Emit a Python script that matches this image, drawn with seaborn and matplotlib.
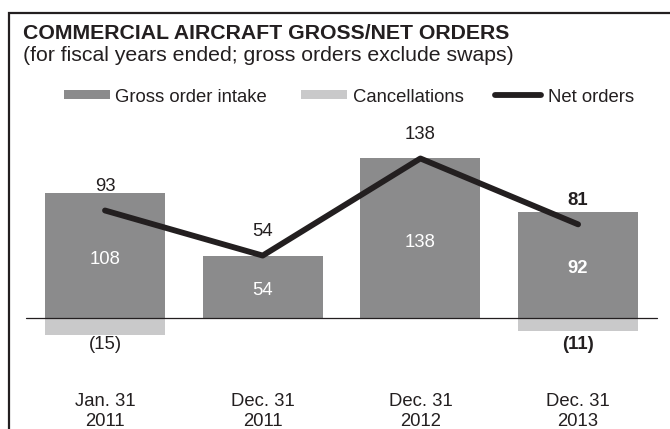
import matplotlib
matplotlib.use("Agg")
import matplotlib.pyplot as plt
from matplotlib.lines import Line2D
from matplotlib.patches import Rectangle
import numpy as np
import pandas as pd
import seaborn as sns

# Fiscal-year order figures
periods = ["Jan. 31\n2011", "Dec. 31\n2011", "Dec. 31\n2012", "Dec. 31\n2013"]
gross_orders = [108, 54, 138, 92]
cancellations = [-15, 0, 0, -11]
net_orders = [93, 54, 138, 81]
highlight = [False, False, False, True]   # latest year printed in bold

legend_labels = ["Gross order intake", "Cancellations", "Net orders"]
title = "COMMERCIAL AIRCRAFT GROSS/NET ORDERS"
subtitle = "(for fiscal years ended; gross orders exclude swaps)"

GROSS_COLOR = "#8b8b8c"
CANCEL_COLOR = "#c9c9ca"
INK = "#231f20"

W, H = 670, 429
sns.set_theme(style="white")
plt.rcParams["font.family"] = ["Liberation Sans", "DejaVu Sans"]

fig = plt.figure(figsize=(W / 100, H / 100), dpi=100)
fig.patch.set_facecolor("white")


def fx(px):
    return px / W


def fy(py):
    return 1 - py / H


# Plot area in pixel terms (from the top of the figure)
AX_LEFT, AX_RIGHT = 22, 670
AX_TOP, AX_BOTTOM = 120, 380
BASE_Y = 318          # pixel row of the zero line
PX_PER_UNIT = 1.156
FIRST_X, STEP_X = 105, 157.7
BAR_PX = 120

ax = fig.add_axes([fx(AX_LEFT), fy(AX_BOTTOM), (AX_RIGHT - AX_LEFT) / W,
                   (AX_BOTTOM - AX_TOP) / H])

df = pd.DataFrame({
    "period": periods,
    "pos": np.arange(len(periods)),
    "gross": gross_orders,
    "cancel": cancellations,
    "net": net_orders,
})

bar_w = BAR_PX / STEP_X
sns.barplot(data=df, x="period", y="gross", color=GROSS_COLOR, saturation=1,
            width=bar_w, linewidth=0, ax=ax, zorder=2)
sns.barplot(data=df, x="period", y="cancel", color=CANCEL_COLOR, saturation=1,
            width=bar_w, linewidth=0, ax=ax, zorder=2)
sns.lineplot(data=df, x="pos", y="net", color=INK, linewidth=4.2, sort=False,
             solid_capstyle="round", ax=ax, zorder=4)

ax.set_xlim(-(FIRST_X - AX_LEFT) / STEP_X, (AX_RIGHT - FIRST_X) / STEP_X)
ax.set_ylim(-(AX_BOTTOM - BASE_Y) / PX_PER_UNIT, (BASE_Y - AX_TOP) / PX_PER_UNIT)

# zero line
span = AX_RIGHT - AX_LEFT
ax.axhline(0, xmin=(26 - AX_LEFT) / span, xmax=(657 - AX_LEFT) / span,
           color=INK, linewidth=0.9, zorder=3)

ax.set_xlabel("")
ax.set_ylabel("")
ax.set_yticks([])
ax.set_xticks(df["pos"], labels=periods)
ax.tick_params(axis="x", length=0, pad=9.4, labelsize=13.3, labelcolor=INK)
for lbl in ax.get_xticklabels():
    lbl.set_linespacing(1.25)
for s in ax.spines.values():
    s.set_visible(False)
ax.set_facecolor("none")

FS = 13.3
# value labels
for i, (g, c, n, b) in enumerate(zip(gross_orders, cancellations, net_orders, highlight)):
    weight = "bold" if b else "normal"
    ax.annotate(f"{n}", (i, n), xytext=(0, 17), textcoords="offset points",
                ha="center", va="center", fontsize=FS, color=INK,
                fontweight=weight, zorder=5)
    ax.annotate(f"{g}", (i, g / 2), xytext=(0, -3), textcoords="offset points",
                ha="center", va="center", fontsize=FS, color="white",
                fontweight=weight, zorder=5)
    if c < 0:
        ax.annotate(f"({-c})", (i, min(cancellations)), xytext=(0, -6.3),
                    textcoords="offset points", ha="center", va="center",
                    fontsize=FS, color=INK, fontweight=weight, zorder=5)

# title block
fig.text(fx(23), fy(39), title, fontsize=15.3, fontweight="bold", color=INK,
         ha="left", va="baseline")
fig.text(fx(23), fy(61), subtitle, fontsize=15.3, color=INK,
         ha="left", va="baseline")

# legend row
LEG_Y = 94.7
fig.add_artist(Rectangle((fx(64), fy(LEG_Y + 4.6)), 46 / W, 9.3 / H,
                         transform=fig.transFigure, color=GROSS_COLOR, lw=0))
fig.text(fx(115), fy(101.7), legend_labels[0], fontsize=FS, color=INK,
         ha="left", va="baseline")
fig.add_artist(Rectangle((fx(301), fy(LEG_Y + 4.6)), 46 / W, 9.3 / H,
                         transform=fig.transFigure, color=CANCEL_COLOR, lw=0))
fig.text(fx(352.5), fy(101.7), legend_labels[1], fontsize=FS, color=INK,
         ha="left", va="baseline")
fig.add_artist(Line2D([fx(495), fx(541)], [fy(LEG_Y), fy(LEG_Y)],
                      transform=fig.transFigure, color=INK, linewidth=4.2,
                      solid_capstyle="round"))
fig.text(fx(548), fy(101.7), legend_labels[2], fontsize=FS, color=INK,
         ha="left", va="baseline")

# box frame (left and top edges)
fig.add_artist(Line2D([fx(9), fx(9), fx(670)], [fy(429), fy(12.7), fy(12.7)],
                      transform=fig.transFigure, color=INK, linewidth=1.6,
                      solid_joinstyle="miter"))

fig.savefig("out.png", dpi=100, facecolor="white")
